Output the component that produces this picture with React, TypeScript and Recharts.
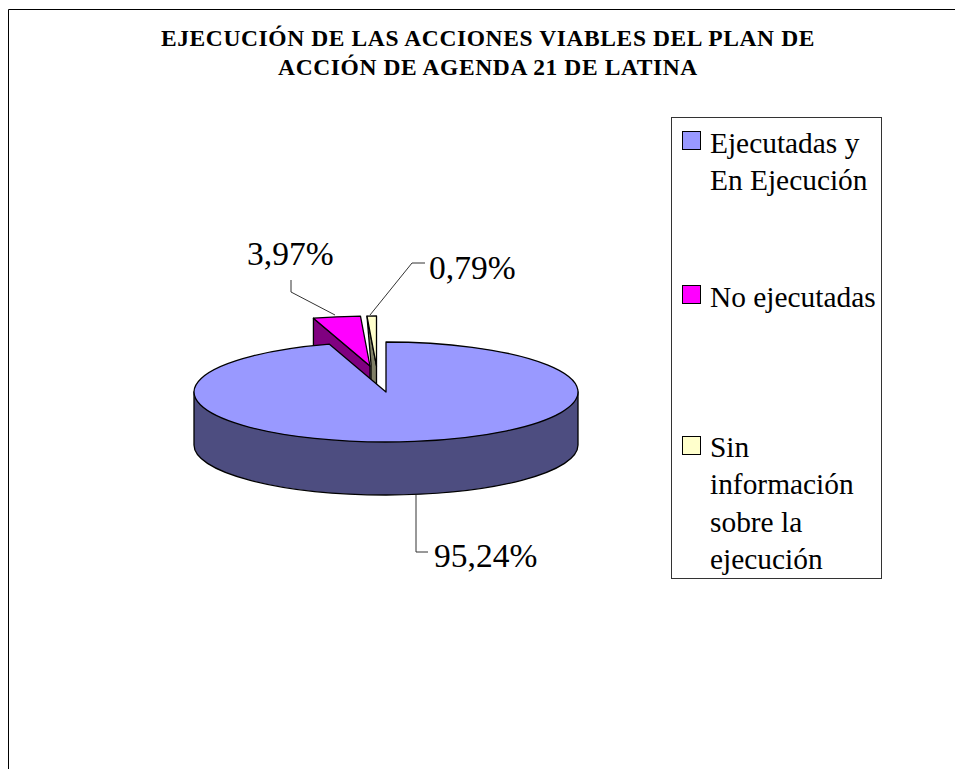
import { Legend, Pie, PieChart } from 'recharts'

const categories = ['Ejecutadas y En Ejecución', 'No ejecutadas', 'Sin información sobre la ejecución']
const values = [95.24, 3.97, 0.79]
const topColors = ['#9999FF', '#FF00FF', '#FFFFCC']
const sideColors = ['#4D4D80', '#800080', '#808066']
const titleLines = [
  'EJECUCIÓN DE LAS ACCIONES VIABLES DEL PLAN DE',
  'ACCIÓN DE AGENDA 21 DE LATINA'
]

// drawn counter-clockwise from 12 o'clock so the big slice ends up painted last
const table = categories
  .map((name, i) => ({ name, value: values[i], fill: topColors[i], side: sideColors[i] }))
  .reverse()

const SERIF = '"Liberation Serif", serif'
const SQUASH = 50 / 192
const DEPTH = 53
const explode: Record<string, [number, number]> = {
  [categories[0]]: [0, 0],
  [categories[1]]: [-16, -26],
  [categories[2]]: [-9.5, -26]
}
const legendTops = [124, 278, 428]
const leaders: Record<string, { points: string; x: number; y: number }> = {
  [categories[0]]: { points: '416,495 416,552 428,552', x: 434, y: 567 },
  [categories[1]]: { points: '291,280 291,292 335,315', x: 247, y: 265 },
  [categories[2]]: { points: '370,315 412,263 425,263', x: 429, y: 279 }
}

function EllipseSlice(props: any) {
  const { cx, cy, outerRadius, startAngle, endAngle, fill, name, side } = props
  const rx = outerRadius
  const ry = outerRadius * SQUASH
  const [dx, dy] = explode[name]
  const ax = cx + dx
  const ay = cy + dy
  const at = (deg: number) => {
    const r = (deg * Math.PI) / 180
    return [ax + rx * Math.cos(r), ay - ry * Math.sin(r)]
  }
  const [sx, sy] = at(startAngle)
  const [ex, ey] = at(endAngle)
  const large = endAngle - startAngle > 180 ? 1 : 0
  const top = `M${ax},${ay} L${sx},${sy} A${rx},${ry} 0 ${large} 0 ${ex},${ey} Z`

  let wall = ''
  if (name === categories[0]) {
    wall = `M${ax - rx},${ay} L${ax - rx},${ay + DEPTH} A${rx},${ry} 0 0 0 ${ax + rx},${ay + DEPTH} L${ax + rx},${ay} Z`
  } else if (name === categories[1]) {
    wall = `M${ex},${ey} L${ax},${ay} L${ax},${ay + DEPTH} L${ex},${ey + DEPTH} Z`
  } else {
    wall = `M${ex},${ey} L${ax},${ay} L${ax},${ay + DEPTH} L${ax - 5.5},${ay + DEPTH} L${ax - 5.5},${ay - 2} Z`
  }

  return (
    <g>
      <path d={wall} fill={side} stroke="#000" strokeWidth={1.3} strokeLinejoin="round" />
      <path d={top} fill={fill} stroke="#000" strokeWidth={1.3} strokeLinejoin="round" />
    </g>
  )
}

function SliceLabel(props: any) {
  const { name, value } = props
  const spot = leaders[name]
  return (
    <g>
      <polyline points={spot.points} fill="none" stroke="#333" strokeWidth={1} />
      <text x={spot.x} y={spot.y} fontFamily={SERIF} fontSize={33.5} fill="#000">
        {`${value.toFixed(2).replace('.', ',')}%`}
      </text>
    </g>
  )
}

function LegendBox() {
  return (
    <div
      style={{
        position: 'relative',
        width: 211,
        height: 462,
        boxSizing: 'border-box',
        border: '1px solid #333',
        background: '#fff',
        fontFamily: SERIF,
        fontSize: 29.4,
        lineHeight: '37.3px',
        color: '#000',
        textAlign: 'left'
      }}
    >
      {categories.map((name, i) => (
        <div key={name}>
          <span
            style={{
              position: 'absolute',
              left: 10,
              top: legendTops[i] - 117 + 6 + (i === 2 ? 1 : 0),
              width: 19,
              height: 19,
              boxSizing: 'border-box',
              border: '1.5px solid #000',
              background: topColors[i]
            }}
          />
          <div style={{ position: 'absolute', left: 38, top: legendTops[i] - 117, width: 170 }}>{name}</div>
        </div>
      ))}
    </div>
  )
}

export default function App() {
  return (
    <div
      style={{
        position: 'absolute',
        left: 0,
        top: 0,
        width: 955,
        height: 769,
        background: '#fff',
        overflow: 'hidden'
      }}
    >
      <PieChart width={955} height={769} margin={{ top: 0, right: 0, bottom: 0, left: 0 }}>
        <line x1={8.5} y1={9.5} x2={955} y2={9.5} stroke="#000" strokeWidth={1} />
        <line x1={8.5} y1={9.5} x2={8.5} y2={769} stroke="#000" strokeWidth={1} />
        {titleLines.map((line, i) => (
          <text
            key={line}
            x={488}
            y={46 + i * 29}
            textAnchor="middle"
            fontFamily={SERIF}
            fontWeight="bold"
            fontSize={23.5}
            letterSpacing={0.6}
            fill="#000"
          >
            {line}
          </text>
        ))}
        <Pie
          data={table}
          dataKey="value"
          nameKey="name"
          cx={386}
          cy={392}
          outerRadius={192}
          startAngle={90}
          endAngle={450}
          shape={EllipseSlice}
          label={SliceLabel}
          labelLine={false}
          stroke="#000"
          isAnimationActive={false}
        />
        <Legend
          content={LegendBox}
          wrapperStyle={{ position: 'absolute', left: 671, top: 117, width: 211, height: 462 }}
        />
      </PieChart>
    </div>
  )
}
